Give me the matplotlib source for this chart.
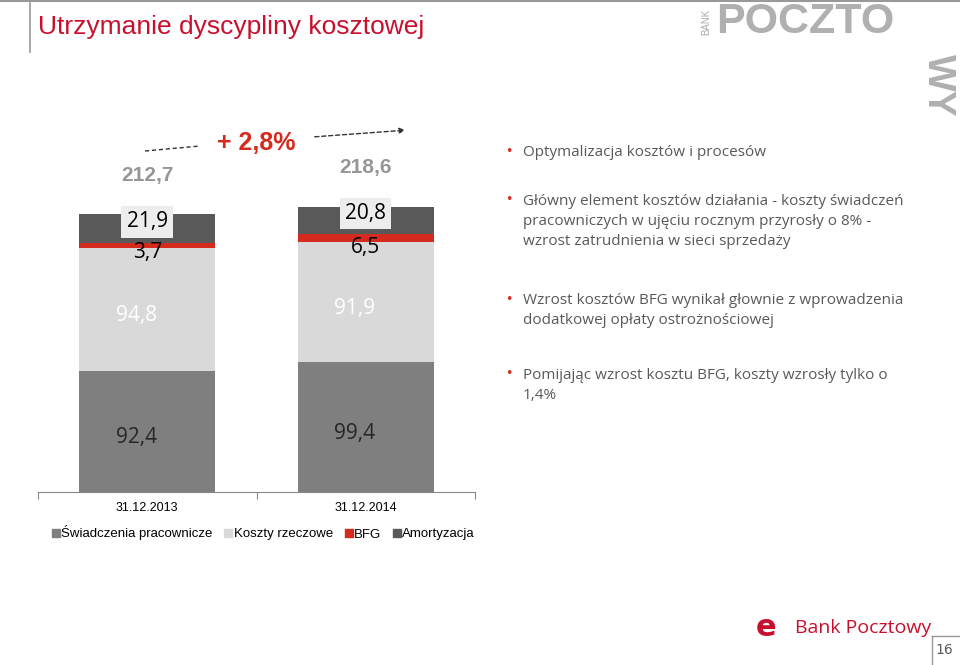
import matplotlib
matplotlib.use("Agg")
import matplotlib.pyplot as plt
import numpy as np

categories = ["31.12.2013", "31.12.2014"]
swiadczenia = [92.4, 99.4]
koszty = [94.8, 91.9]
bfg = [3.7, 6.5]
amortyzacja = [21.9, 20.8]
totals = [212.7, 218.6]
series_names = ["Świadczenia pracownicze", "Koszty rzeczowe", "BFG", "Amortyzacja"]
colors = ["#7F7F7F", "#D9D9D9", "#D52B1E", "#595959"]
change_label = "+ 2,8%"
bullets = [
    "Optymalizacja kosztów i procesów",
    "Główny element kosztów działania - koszty świadczeń\npracowniczych w ujęciu rocznym przyrosły o 8% -\nwzrost zatrudnienia w sieci sprzedaży",
    "Wzrost kosztów BFG wynikał głownie z wprowadzenia\ndodatkowej opłaty ostrożnościowej",
    "Pomijając wzrost kosztu BFG, koszty wzrosły tylko o\n1,4%",
]
bullet_y = [155, 204, 303, 378]

W, H = 960, 665
fig = plt.figure(figsize=(9.6, 6.65), dpi=100)
def fx(x): return x / W
def fy(y): return 1 - y / H

ax = fig.add_axes([fx(38), fy(492), fx(475) - fx(38), 250 * 1.306 / H])
x = np.arange(len(categories))
bw = 0.624
data = [swiadczenia, koszty, bfg, amortyzacja]
bottom = np.zeros(2)
for vals, c, n in zip(data, colors, series_names):
    ax.bar(x, vals, bw, bottom=bottom, color=c, label=n)
    bottom += np.array(vals)
ax.set_xlim(-0.5, 1.5)
ax.set_ylim(0, 250)
for s in ["top", "right", "left"]:
    ax.spines[s].set_visible(False)
ax.spines["bottom"].set_color("#888888")
ax.set_yticks([])
ax.set_xticks([-0.5, 0.5, 1.5])
ax.set_xticklabels([])
ax.tick_params(axis="x", length=5, color="#888888")
for i, c in enumerate(categories):
    ax.text(i, -8, c, ha="center", va="top", fontsize=9, fontfamily="Liberation Sans")

lf = dict(fontfamily="Open Sans", fontsize=15)
fmt = lambda v: f"{v:.1f}".replace(".", ",")
for i in range(2):
    ax.text(i - 0.05, swiadczenia[i] * 0.45, fmt(swiadczenia[i]), ha="center", va="center", color="#262626", **lf)
    ax.text(i - 0.05, swiadczenia[i] + koszty[i] * 0.45, fmt(koszty[i]), ha="center", va="center", color="white", **lf)
    b0 = swiadczenia[i] + koszty[i]
    ax.text(i, b0 - 4, fmt(bfg[i]), ha="center", va="center", color="black", **lf)
    ax.text(i, b0 + bfg[i] + amortyzacja[i] * 0.5 + 5, fmt(amortyzacja[i]), ha="center", va="center", color="black",
            bbox=dict(boxstyle="square,pad=0.25", fc="#EDEDED", ec="none"), **lf)
    ax.text(i, totals[i] + 30, fmt(totals[i]), ha="center", va="center", color="#969696",
            fontsize=15, fontweight="bold", fontfamily="Liberation Sans")

fig.text(fx(256), fy(143), change_label, ha="center", va="center", color="#D52B1E", fontsize=18, fontweight="bold", fontfamily="Liberation Sans")
fig.add_artist(plt.Line2D([fx(145), fx(200)], [fy(151), fy(146)], ls=(0, (3, 2)), color="#333333", lw=1))
fig.add_artist(matplotlib.patches.FancyArrowPatch((fx(312), fy(137)), (fx(408), fy(130)), transform=fig.transFigure,
               arrowstyle="-|>", mutation_scale=8, ls=(0, (3, 2)), color="#333333", lw=1))

h = [matplotlib.lines.Line2D([], [], marker="s", ls="", color=c, markersize=6) for c in colors]
fig.legend(h, series_names, loc="center left", bbox_to_anchor=(fx(36), fy(533)), ncol=4, frameon=False,
           handletextpad=-0.2, columnspacing=0.6, handlelength=1.2, prop={"family": "Liberation Sans", "size": 9.5})

fig.text(fx(38), fy(27), "Utrzymanie dyscypliny kosztowej", color="#C8102E", fontsize=19, va="center", fontfamily="Liberation Sans")
fig.add_artist(plt.Line2D([fx(30), fx(30)], [fy(3), fy(52)], color="#999999", lw=1.2))
fig.add_artist(plt.Line2D([0, 1], [fy(1), fy(1)], color="#999999", lw=1.5))

fig.text(fx(706), fy(22), "BANK", rotation=90, color="#AAAAAA", fontsize=7, ha="center", va="center", fontfamily="Liberation Sans")
fig.text(fx(716), fy(22), "POCZTO", color="#B0B0B0", fontsize=31, fontweight="bold", ha="left", va="center", fontfamily="Liberation Sans")
fig.text(fx(938), fy(85), "WY", rotation=-90, color="#B0B0B0", fontsize=28, fontweight="bold", ha="center", va="center", fontfamily="Liberation Sans")

for t, y in zip(bullets, bullet_y):
    fig.text(fx(505), fy(y - 4), "•", color="#D52B1E", fontsize=9, va="center")
    fig.text(fx(523), fy(y - 10), t, color="#595959", fontsize=11, va="top", linespacing=1.45, fontfamily="Open Sans")

fig.text(fx(795), fy(628), "Bank Pocztowy", color="#C8102E", fontsize=14, va="center", fontfamily="Open Sans")
fig.text(fx(766), fy(628), "e", color="#C8102E", fontsize=22, fontweight="bold", va="center", ha="center")
fig.add_artist(plt.Line2D([fx(932), fx(932)], [fy(636), fy(665)], color="#999999", lw=1))
fig.add_artist(plt.Line2D([fx(932), 1], [fy(636), fy(636)], color="#999999", lw=1))
fig.text(fx(944), fy(650), "16", color="#595959", fontsize=10, ha="center", va="center")

fig.savefig("out.png", dpi=100)
